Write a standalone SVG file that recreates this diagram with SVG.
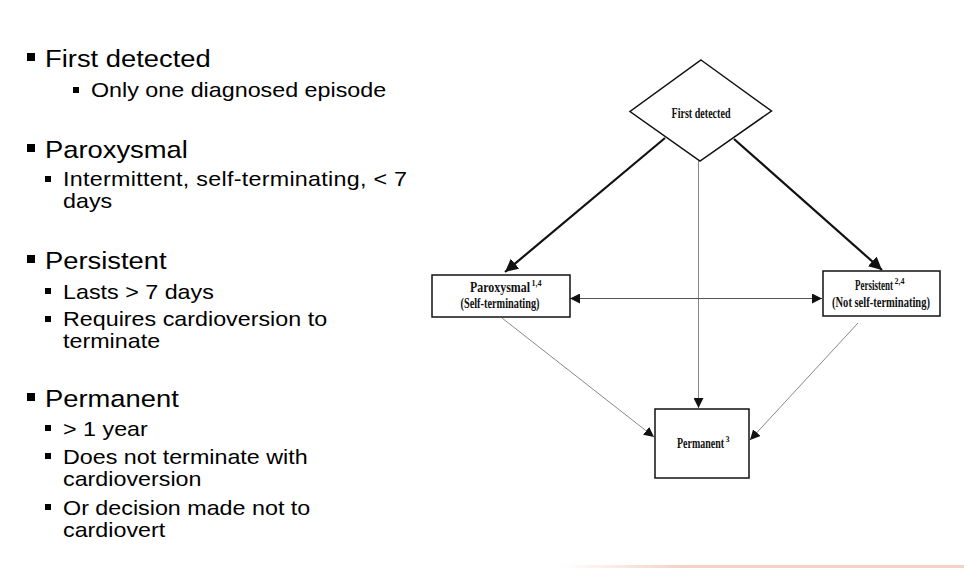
<svg xmlns="http://www.w3.org/2000/svg" width="964" height="568" viewBox="0 0 964 568">
<defs>
<style>
.h{font-family:"Liberation Sans",Arial,sans-serif;font-size:24px;fill:#000}
.s{font-family:"Liberation Sans",Arial,sans-serif;font-size:20px;fill:#000}
.b{fill:#000}
.node{fill:#fff;stroke:#111;stroke-width:1.5}
.t{font-family:"Liberation Serif","Times New Roman",serif;font-weight:bold;font-size:14px;fill:#111}
.sup{font-size:8px}
.thick{stroke:#111;stroke-width:2.2;fill:none}
.thin{stroke:#888;stroke-width:1;fill:none}
.mid{stroke:#555;stroke-width:1;fill:none}
</style>
<marker id="ah" viewBox="0 0 10 10" refX="10" refY="5" markerWidth="10" markerHeight="10" markerUnits="userSpaceOnUse" orient="auto-start-reverse">
<path d="M0,0 L10,5 L0,10 z" fill="#111"/>
</marker>
<marker id="ahb" viewBox="0 0 10 10" refX="10" refY="5" markerWidth="13" markerHeight="13" markerUnits="userSpaceOnUse" orient="auto">
<path d="M0,0 L10,5 L0,10 z" fill="#111"/>
</marker>
<linearGradient id="pk" x1="0" x2="1" y1="0" y2="0">
<stop offset="0" stop-color="#f4d2c8" stop-opacity="0"/>
<stop offset="0.3" stop-color="#f4d2c8" stop-opacity="1"/>
<stop offset="1" stop-color="#f4d2c8" stop-opacity="1"/>
</linearGradient>
</defs>
<rect width="964" height="568" fill="#fff"/>

<g id="bullets">
<rect class="b" x="27" y="53" width="8" height="8"/>
<rect class="b" x="73" y="87" width="6" height="6"/>
<rect class="b" x="27" y="144" width="8" height="8"/>
<rect class="b" x="45" y="176" width="6" height="6"/>
<rect class="b" x="27" y="255" width="8" height="8"/>
<rect class="b" x="45" y="288" width="6" height="6"/>
<rect class="b" x="45" y="316" width="6" height="6"/>
<rect class="b" x="27" y="393" width="8" height="8"/>
<rect class="b" x="45" y="425" width="6" height="6"/>
<rect class="b" x="45" y="453" width="6" height="6"/>
<rect class="b" x="45" y="504" width="6" height="6"/>
</g>
<g id="headings" transform="scale(1.14,1)">
<text class="h" x="39.5" y="67">First detected</text>
<text class="h" x="39.5" y="158">Paroxysmal</text>
<text class="h" x="39.5" y="269">Persistent</text>
<text class="h" x="39.5" y="407">Permanent</text>
</g>
<g id="subs" transform="scale(1.165,1)">
<text class="s" x="78.1" y="97">Only one diagnosed episode</text>
<text class="s" x="54.1" y="186" textLength="295.3" lengthAdjust="spacing">Intermittent, self-terminating, &lt; 7</text>
<text class="s" x="54.1" y="208">days</text>
<text class="s" x="54.1" y="299">Lasts &gt; 7 days</text>
<text class="s" x="54.1" y="326">Requires cardioversion to</text>
<text class="s" x="54.1" y="348">terminate</text>
<text class="s" x="54.1" y="436">&gt; 1 year</text>
<text class="s" x="54.1" y="464">Does not terminate with</text>
<text class="s" x="54.1" y="486.5">cardioversion</text>
<text class="s" x="54.1" y="515">Or decision made not to</text>
<text class="s" x="54.1" y="537">cardiovert</text>
</g>

<g id="connectors">
<line class="thick" x1="665" y1="138" x2="505" y2="272" marker-end="url(#ahb)"/>
<line class="thick" x1="734" y1="139" x2="882" y2="270" marker-end="url(#ahb)"/>
<line class="thin" x1="698.5" y1="161" x2="698.5" y2="408" marker-end="url(#ah)"/>
<line class="mid" x1="570" y1="298.5" x2="822" y2="298.5" marker-start="url(#ah)" marker-end="url(#ah)"/>
<line class="thin" x1="502" y1="318" x2="654" y2="437" marker-end="url(#ah)"/>
<line class="thin" x1="858" y1="323" x2="750" y2="440" marker-end="url(#ah)"/>
</g>

<g id="first-detected">
<polygon class="node" points="701,60 771.5,111 700,161 630,111.5"/>
<text class="t" x="671.5" y="118" textLength="59" lengthAdjust="spacingAndGlyphs">First detected</text>
</g>
<g id="paroxysmal">
<rect class="node" x="432" y="275" width="138" height="42"/>
<text class="t" x="470" y="291.5"><tspan textLength="60" lengthAdjust="spacingAndGlyphs">Paroxysmal</tspan><tspan class="sup" dx="1.5" dy="-6">1,4</tspan></text>
<text class="t" x="460.5" y="308" textLength="79" lengthAdjust="spacingAndGlyphs">(Self-terminating)</text>
</g>
<g id="persistent">
<rect class="node" x="823" y="271" width="117" height="45"/>
<text class="t" x="855" y="290"><tspan textLength="38" lengthAdjust="spacingAndGlyphs">Persistent</tspan><tspan class="sup" dx="1.5" dy="-6">2,4</tspan></text>
<text class="t" x="832" y="306.5" textLength="98" lengthAdjust="spacingAndGlyphs">(Not self-terminating)</text>
</g>
<g id="permanent">
<rect class="node" x="655" y="409" width="94" height="69"/>
<text class="t" x="677" y="447.5"><tspan textLength="47" lengthAdjust="spacingAndGlyphs">Permanent</tspan><tspan class="sup" dx="1.5" dy="-6">3</tspan></text>
</g>
<rect x="560" y="565" width="404" height="3" fill="url(#pk)"/>
</svg>
